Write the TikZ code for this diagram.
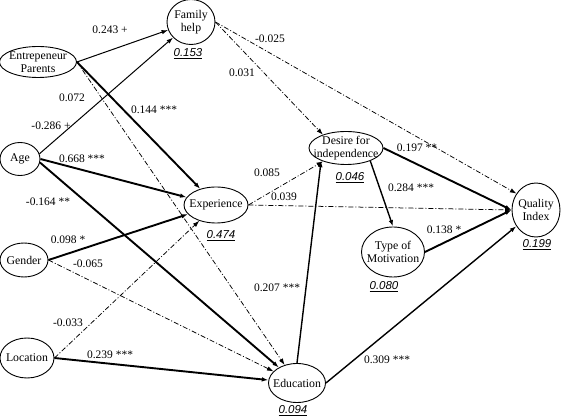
\documentclass[tikz,border=0pt]{standalone}
\usepackage{fontspec}
\setmainfont{Liberation Serif}
\newfontfamily\valfont{Liberation Sans}
\usetikzlibrary{arrows.meta,shapes.geometric}
\begin{document}
\begin{tikzpicture}[x=1pt,y=-1pt,
  var/.style={draw, ellipse, inner sep=0pt, line width=0.9pt},
  txt/.style={inner sep=0pt, align=center, font=\fontsize{11.8}{13.5}\selectfont},
  lab/.style={inner sep=0pt, font=\fontsize{11.5}{13.5}\selectfont},
  val/.style={inner sep=0pt, font=\valfont\itshape\fontsize{11.5}{13.5}\selectfont},
  arr/.style={-{Latex[length=6.5pt,width=4.5pt]}},
  thk/.style={arr, line width=1.9pt},
  med/.style={arr, line width=1.4pt},
  thn/.style={arr, line width=1.0pt},
  dd/.style={arr, line width=0.75pt, dash pattern=on 5pt off 2pt on 1pt off 2pt}
]
\useasboundingbox (0,0) rectangle (563,419);

% variables
\node[var, minimum width=48pt, minimum height=45pt] (fh) at (191,22) {};
\node[txt] (fht) at (fh) {Family\\help};
\node[var, minimum width=77pt, minimum height=31pt] (ep) at (38,62) {};
\node[txt] (ept) at (ep) {Entrepeneur\\Parents};
\node[var, minimum width=40pt, minimum height=33pt] (age) at (20,159) {};
\node[txt] (aget) at (age) {Age};
\node[var, minimum width=48pt, minimum height=34pt] (gen) at (24,260) {};
\node[txt] (gent) at (gen) {Gender};
\node[var, minimum width=54pt, minimum height=40pt] (loc) at (27,358) {};
\node[txt] (loct) at (loc) {Location};
\node[var, minimum width=64pt, minimum height=36pt] (exp) at (216,205) {};
\node[txt] (expt) at (exp) {Experience};
\node[var, minimum width=57pt, minimum height=39pt] (edu) at (297,383) {};
\node[txt] (edut) at (edu) {Education};
\node[var, minimum width=74pt, minimum height=33pt] (des) at (346,148) {};
\node[txt] (dest) at (des) {Desire for\\independence};
\node[var, minimum width=63pt, minimum height=50pt] (typ) at (393,252) {};
\node[txt] (typt) at (typ) {Type of\\Motivation};
\node[var, minimum width=48pt, minimum height=54pt] (qi) at (536,210) {};
\node[txt] (qit) at (qi) {Quality\\Index};

% explained variance
\node[val] (vfh) at (188,54) {\underline{0.153}};
\node[val] (vexp) at (221,236) {\underline{0.474}};
\node[val] (vdes) at (350,178) {\underline{0.046}};
\node[val] (vtyp) at (384,287) {\underline{0.080}};
\node[val] (vedu) at (293,411) {\underline{0.094}};
\node[val] (vqi) at (537,245) {\underline{0.199}};

% paths
\draw[thn] (ep.east) -- (fh);
\draw[thn] (age.15) -- (fh);
\draw[thk] (ep.east) -- (exp);
\draw[dd]  (ep.east) -- (edu);
\draw[thk] (age.east) -- (exp);
\draw[thk] (age.-10) -- (edu);
\draw[thk] (gen.east) -- (exp);
\draw[dd]  (gen.east) -- (edu);
\draw[dd]  (loc.east) -- (exp);
\draw[thk] (loc.east) -- (edu);
\draw[dd]  (exp.east) -- (des);
\draw[dd]  (exp.east) -- (qi.west);
\draw[med] (edu.north) -- (des.207);
\draw[med] (edu.east) -- (qi);
\draw[med] (des.-28) -- (typ.north);
\draw[thk] (des.east) -- (qi.west);
\draw[thk] (typ.east) -- (qi.west);
\draw[dd]  (fh.east) -- (qi.140);
\draw[dd]  (fh.east) -- (des.150);

% coefficients
\node[lab] (c1) at (110,30) {0.243 +};
\node[lab] (c2) at (72,98) {0.072};
\node[lab] (c3) at (154,110) {0.144 ***};
\node[lab] (c4) at (51,126) {-0.286 +};
\node[lab] (c5) at (270,39) {-0.025};
\node[lab] (c6) at (242,73) {0.031};
\node[lab] (c7) at (82,159) {0.668 ***};
\node[lab] (c8) at (48,202) {-0.164 **};
\node[lab] (c9) at (68,240) {0.098 *};
\node[lab] (c10) at (88,264) {-0.065};
\node[lab] (c11) at (267,173) {0.085};
\node[lab] (c12) at (284,197) {0.039};
\node[lab] (c13) at (417,148) {0.197 **};
\node[lab] (c14) at (411,188) {0.284 ***};
\node[lab] (c15) at (444,230) {0.138 *};
\node[lab] (c16) at (277,288) {0.207 ***};
\node[lab] (c17) at (68,323) {-0.033};
\node[lab] (c18) at (110,355) {0.239 ***};
\node[lab] (c19) at (387,360) {0.309 ***};
\end{tikzpicture}
\end{document}
